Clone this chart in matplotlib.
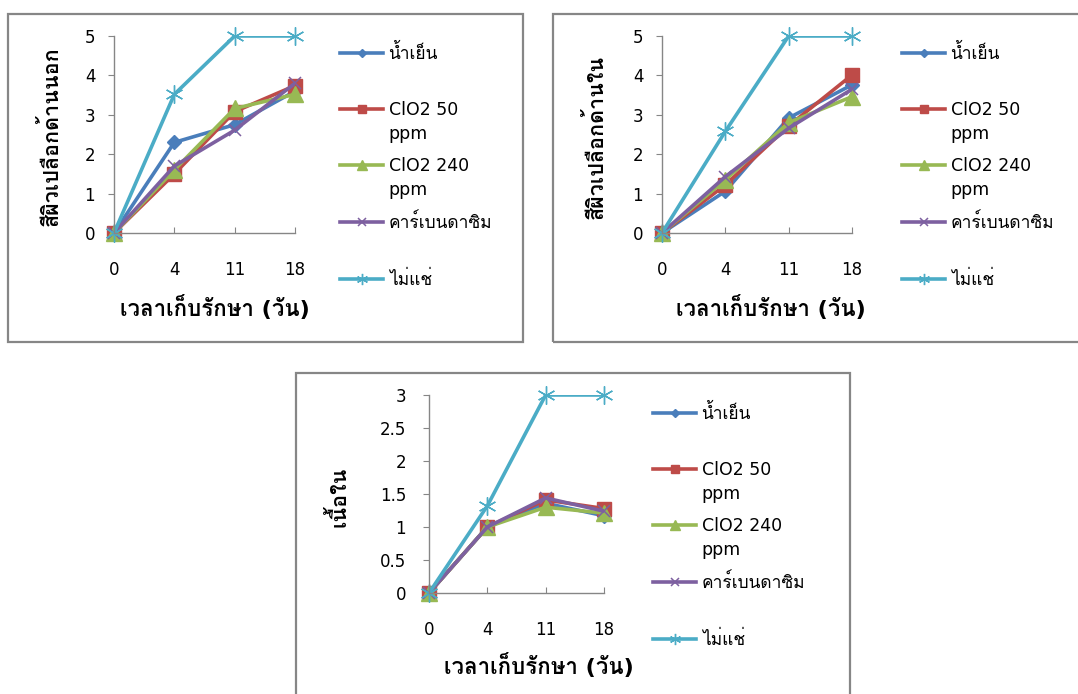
import matplotlib
matplotlib.use("Agg")
import matplotlib.pyplot as plt
import numpy as np
from matplotlib import font_manager
from matplotlib.ft2font import FT2Font
from matplotlib.patches import Rectangle
from matplotlib.lines import Line2D

# Find an installed font that has Thai glyphs (Loma if there), used after DejaVu Sans.
thai_fonts = []
for f in font_manager.fontManager.ttflist:
    try:
        if 0x0E19 in FT2Font(f.fname).get_charmap():
            thai_fonts.append(f.name)
    except Exception:
        pass
thai_font = "Loma" if "Loma" in thai_fonts else (thai_fonts[0] if thai_fonts else None)
plt.rcParams["font.family"] = ["DejaVu Sans"] + ([thai_font] if thai_font else [])

# Data.
days = ["0", "4", "11", "18"]
series_names = ["น้ำเย็น", "ClO2 50", "ClO2 240", "คาร์เบนดาซิม", "ไม่แช่"]
second_lines = ["", "ppm", "ppm", "", ""]
x_title = "เวลาเก็บรักษา (วัน)"

outer_peel = [
    [0, 2.3, 2.75, 3.6],
    [0, 1.5, 3.08, 3.74],
    [0, 1.6, 3.16, 3.52],
    [0, 1.7, 2.61, 3.8],
    [0, 3.52, 5, 5],
]
inner_peel = [
    [0, 1.06, 2.92, 3.76],
    [0, 1.22, 2.72, 4.01],
    [0, 1.35, 2.8, 3.46],
    [0, 1.43, 2.66, 3.65],
    [0, 2.58, 5, 5],
]
flesh = [
    [0, 1.0, 1.36, 1.17],
    [0, 1.0, 1.41, 1.28],
    [0, 1.0, 1.3, 1.21],
    [0, 1.0, 1.44, 1.24],
    [0, 1.32, 3, 3],
]

colors = ["#4A7EBB", "#BE4B48", "#98B954", "#7D60A0", "#4BACC6"]
markers = ["D", "s", "^", "x", (6, 2, 0)]
msizes = [7, 10, 11, 9, 13]
medges = [1.0, 1.0, 1.0, 1.1, 1.0]

W, H = 1078, 694
fig = plt.figure(figsize=(W / 100, H / 100), dpi=100)
gray = "#868686"


def px_rect(x0, y0, x1, y1):
    # pixel box (top-left origin) to figure fraction
    return [x0 / W, (H - y1) / H, (x1 - x0) / W, (y1 - y0) / H]


def draw_panel(box, plot_px, values, ylabel, ymax, ystep, legend_xy,
               xlab_pos, ylab_pos, ypad):
    r = px_rect(*box)
    fig.add_artist(Rectangle((r[0], r[1]), r[2], r[3], transform=fig.transFigure,
                             fill=False, edgecolor=gray, linewidth=1.6))
    ax = fig.add_axes(px_rect(*plot_px))
    x = np.arange(len(days))
    handles = []
    for vals, c, m, ms, me in zip(values, colors, markers, msizes, medges):
        # line clipped to the plot area, markers not clipped
        ax.plot(x, vals, color=c, linewidth=2.6, solid_capstyle="round")
        ax.plot(x, vals, linestyle="none", marker=m, markersize=ms, color=c,
                markeredgecolor=c, markeredgewidth=me, clip_on=False)
        handles.append(Line2D([], [], color=c, linewidth=2.6, marker=m,
                              markersize=ms * 0.62, markeredgewidth=me,
                              markeredgecolor=c))
    ax.set_xlim(0, len(days) - 1)
    ax.set_ylim(0, ymax)
    ax.set_xticks(x)
    ax.set_xticklabels(days)
    yt = np.arange(0, ymax + 0.001, ystep)
    ax.set_yticks(yt)
    ax.set_yticklabels([f"{v:g}" for v in yt])
    for s in ["top", "right"]:
        ax.spines[s].set_visible(False)
    for s in ["left", "bottom"]:
        ax.spines[s].set_color(gray)
        ax.spines[s].set_linewidth(1.0)
    ax.tick_params(axis="x", direction="in", length=4.5, color=gray,
                   labelsize=12, pad=20)
    ax.tick_params(axis="y", direction="out", length=4.5, color=gray,
                   labelsize=12, pad=ypad)
    ax.set_xlabel(x_title, fontsize=16, fontweight="bold", va="center")
    ax.xaxis.set_label_coords(*xlab_pos)
    ax.set_ylabel(ylabel, fontsize=15.5, fontweight="bold", va="center")
    ax.yaxis.set_label_coords(*ylab_pos)

    leg = ax.legend(handles, series_names, loc="upper left",
                    bbox_to_anchor=(legend_xy[0] / W, 1 - legend_xy[1] / H),
                    bbox_transform=fig.transFigure, frameon=False,
                    fontsize=12.5, borderpad=0, borderaxespad=0,
                    handlelength=2.5, handletextpad=0.3, labelspacing=2.2)
    # second line of the two-line legend labels, under the first line
    for t, extra in zip(leg.get_texts(), second_lines):
        if extra:
            ax.annotate(extra, xy=(0, 0), xycoords=t, xytext=(0, -6),
                        textcoords="offset pixels", va="top", ha="left",
                        fontsize=12.5, zorder=10)
    return ax


draw_panel((8, 14, 523, 342), (114, 36, 295, 233), outer_peel,
           "สีผิวเปลือกด้านนอก", 5, 1, (340, 44), (0.56, -0.376),
           (-0.354, 0.492), 9)
draw_panel((553, 14, 1085, 342), (662, 36, 852, 233), inner_peel,
           "สีผิวเปลือกด้านใน", 5, 1, (902, 44), (0.574, -0.38),
           (-0.353, 0.487), 9)
draw_panel((296, 373, 850, 700), (429, 395, 604, 593), flesh,
           "เนื้อใน", 3, 0.5, (653, 404), (0.63, -0.364),
           (-0.52, 0.485), 12)

fig.savefig("out.png", dpi=100)
